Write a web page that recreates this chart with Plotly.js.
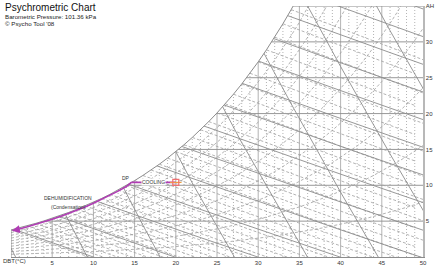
<!DOCTYPE html>
<html><head><meta charset="utf-8">
<script src="https://cdn.plot.ly/plotly-3.0.1.min.js"></script>
<style>html,body{margin:0;padding:0;background:#fff}#chart{width:435px;height:270px}</style>
</head><body><div id="chart"></div>
<script>
// ---- data ----
const pressureKPa = 101.325;
const chartTitle = 'Psychrometric Chart';
const subtitleLines = ['Barometric Pressure: 101.36 kPa', "© Psycho Tool '08"];
const dbtTickVals = [5,10,15,20,25,30,35,40,45,50];
const dbtTickText = ['5','10','15','20','25','30','35','40','45','50'];
const dbtAxisLabel = 'DBT(°C)';
const ahTickVals = [5,10,15,20,25,30,35];
const ahTickText = ['5','10','15','20','25','30','AH'];
// saturation vapour pressure table (kPa) at 0..50 °C
const satTemp = [0,1,2,3,4,5,6,7,8,9,10,11,12,13,14,15,16,17,18,19,20,21,22,23,24,25,26,27,28,29,30,31,32,33,34,35,36,37,38,39,40,41,42,43,44,45,46,47,48,49,50];
const satPress = [0.6112,0.6571,0.7060,0.7581,0.8135,0.8726,0.9354,1.0021,1.0730,1.1482,1.2282,1.3129,1.4028,1.4981,1.5989,1.7057,1.8188,1.9383,2.0647,2.1982,2.3392,2.4881,2.6452,2.8109,2.9856,3.1697,3.3637,3.5679,3.7828,4.0089,4.2467,4.4966,4.7592,5.0350,5.3244,5.6280,5.9463,6.2801,6.6298,6.9960,7.3844,7.7804,8.2000,8.6391,9.0982,9.5851,10.086,10.612,11.162,11.736,12.344];
const rhLevels = [10,20,30,40,50,60,70,80,90];
const enthalpyLevels = [10,20,30,40,50,60,70,80,90,100,110,120,130,140];
const wetBulbLevels = [0,1,2,3,4,5,6,7,8,9,10,11,12,13,14,15,16,17,18,19,20,21,22,23,24,25,26,27,28,29,30,31,32,33,34];
const volumeLevels = [0.775,0.8,0.825,0.85,0.875,0.9,0.925,0.95];
const ahGridSolid = [5,10,15,20,25,30];
const processTemp = [20.0, 14.6];
const processAH = [10.4, 10.4];
const dewPointTemp = 14.6;

// ---- construction ----
const P = pressureKPa;
const ahFromP = p => 622*p/(P-p);
const satAH = satPress.map(ahFromP);
const GRAY = '#8c8c8c', LGRAY = '#a0a0a0', MAG = '#b03cb4';
const traces = [];
function seg(xs, ys, x, y){ xs.push(...x, null); ys.push(...y, null); }
function addTrace(xs, ys, line){ traces.push({x:xs,y:ys,mode:'lines',line:line,hoverinfo:'skip',showlegend:false,connectgaps:false}); }

let xs=[],ys=[];
for(let t=1;t<50;t++){ if(t%5) seg(xs,ys,[t,t],[0,36]); }
addTrace(xs,ys,{color:LGRAY,width:0.8,dash:'1px,2px'});
xs=[];ys=[];
for(let t=5;t<50;t+=5) seg(xs,ys,[t,t],[0,36]);
addTrace(xs,ys,{color:LGRAY,width:0.8});
xs=[];ys=[];
ahGridSolid.forEach(w=>seg(xs,ys,[-1,51],[w,w]));
addTrace(xs,ys,{color:GRAY,width:0.9});
xs=[];ys=[];
rhLevels.forEach(r=>{ const phi=r/100; seg(xs,ys,satTemp, satPress.map(p=>622*phi*p/(P-phi*p))); });
addTrace(xs,ys,{color:LGRAY,width:0.8,dash:'3px,2px'});
xs=[];ys=[];
wetBulbLevels.forEach(tw=>{
  const ws = satAH[tw]/1000; const tx=[], wy=[];
  for(let t=tw;t<=50;t+=2){ tx.push(t); wy.push(1000*((2501-2.326*tw)*ws-1.006*(t-tw))/(2501+1.86*t-4.186*tw)); }
  seg(xs,ys,tx,wy);
});
addTrace(xs,ys,{color:LGRAY,width:0.8,dash:'3px,2px'});
xs=[];ys=[];
enthalpyLevels.forEach(h=>{ const tx=[],wy=[]; for(let t=-2;t<=52;t+=6){tx.push(t); wy.push(1000*(h-1.006*t)/(2501+1.86*t));} seg(xs,ys,tx,wy); });
addTrace(xs,ys,{color:GRAY,width:0.9});
xs=[];ys=[];
volumeLevels.forEach(v=>{ const tx=[],wy=[]; for(let t=-2;t<=52;t+=6){tx.push(t); wy.push(1000*((v*P/(0.287042*(t+273.15)))-1)/1.607858);} seg(xs,ys,tx,wy); });
addTrace(xs,ys,{color:GRAY,width:0.9});
let k=0; while(satAH[k+1]<35) k++;
const tTop = satTemp[k] + (35-satAH[k])/(satAH[k+1]-satAH[k]);
const curveT = satTemp.slice(0,k+1).concat([tTop]);
const curveW = satAH.slice(0,k+1).concat([35]);
traces.push({x:curveT.concat([tTop,-2,-2]), y:curveW.concat([40,40,satAH[0]]), mode:'lines', fill:'toself', fillcolor:'#ffffff', line:{width:0,color:'rgba(0,0,0,0)'}, hoverinfo:'skip', showlegend:false});
addTrace(curveT, curveW, {color:GRAY,width:1});
addTrace([tTop,50],[35,35],{color:GRAY,width:1});
addTrace([0,0],[0,satAH[0]],{color:GRAY,width:1});
let dT=[dewPointTemp], dW=[processAH[1]];
for(let i=satTemp.length-1;i>=0;i--){ if(satTemp[i]<dewPointTemp && satTemp[i]>=1){ dT.push(satTemp[i]); dW.push(satAH[i]-0.15); } }
addTrace(dT,dW,{color:MAG,width:1.6});
addTrace(processTemp, processAH, {color:MAG,width:1.6});
addTrace([processTemp[0]-0.7, processTemp[0]+0.7],[processAH[0],processAH[0]],{color:'#f0a040',width:1.2});
traces.push({x:[processTemp[0]],y:[processAH[0]],mode:'markers',marker:{symbol:'square-open',size:6,color:'#f07070',line:{width:1.2}},hoverinfo:'skip',showlegend:false});

const tf = {family:'Liberation Sans, Arial, sans-serif', color:'#333'};
const headerText = '<span style="font-size:10px;fill:#111">'+chartTitle+'</span><br>' + subtitleLines.map(s=>'<span style="font-size:6.2px">'+s+'</span>').join('<br>');
const layout = {
  width:435, height:270, autosize:false,
  margin:{l:11,r:12,t:6,b:13,pad:0},
  paper_bgcolor:'#fff', plot_bgcolor:'#fff',
  xaxis:{range:[0,50], tickvals:dbtTickVals, ticktext:dbtTickText, ticks:'', showgrid:false, zeroline:false, showline:true, linecolor:GRAY, linewidth:1, tickfont:Object.assign({size:6},tf), fixedrange:true, ticklabeloverflow:'allow'},
  yaxis:{range:[0,35], side:'right', tickvals:ahTickVals, ticktext:ahTickText, ticks:'', showgrid:false, zeroline:false, showline:true, linecolor:'#b8b8b8', linewidth:1.6, tickfont:Object.assign({size:6},tf), fixedrange:true, ticklabeloverflow:'allow'},
  annotations:[
    {xref:'paper',yref:'paper',x:-0.019,y:1+(6-0)/251,xanchor:'left',yanchor:'top',align:'left',text:headerText,showarrow:false,font:Object.assign({size:5.8},tf,{color:'#222'})},
    {xref:'paper',yref:'paper',x:(14-11)/412,y:-(261-257)/251,xanchor:'center',yanchor:'middle',text:dbtAxisLabel,showarrow:false,font:Object.assign({size:6},tf)},
    {x:13.9,y:11.0,text:'DP',showarrow:false,font:Object.assign({size:5},tf)},
    {x:17.3,y:10.4,text:'COOLING',showarrow:false,bgcolor:'#fff',borderpad:0,font:Object.assign({size:5},tf)},
    {x:6.9,y:8.25,text:'DEHUMIDIFICATION',showarrow:false,font:Object.assign({size:5},tf)},
    {x:7.0,y:6.95,text:'(Condensation)',showarrow:false,font:Object.assign({size:5},tf)},
    {x:0.1,y:satAH[0]-0.1,ax:1.2,ay:satAH[1]-0.15,axref:'x',ayref:'y',xref:'x',yref:'y',text:'',showarrow:true,arrowhead:2,arrowsize:1,arrowwidth:1.6,arrowcolor:MAG,standoff:0}
  ]
};
Plotly.newPlot('chart', traces, layout, {staticPlot:true, displayModeBar:false});
</script></body></html>
